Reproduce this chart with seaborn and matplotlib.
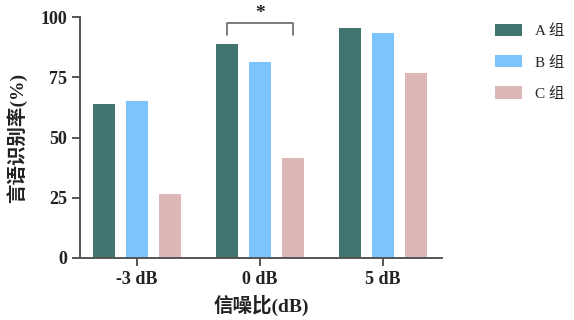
import matplotlib
matplotlib.use("Agg")
import matplotlib.pyplot as plt
import pandas as pd
import seaborn as sns

# 数据
snr = ["-3 dB", "0 dB", "5 dB"]
groups = ["A 组", "B 组", "C 组"]
group_a = [64.0, 89.0, 95.5]
group_b = [65.0, 81.5, 93.2]
group_c = [26.7, 41.5, 76.6]
colors = ["#41736f", "#7bc4fd", "#ddb6b6"]

df = pd.DataFrame({
    "snr": snr * 3,
    "group": [g for g in groups for _ in snr],
    "rate": group_a + group_b + group_c,
})

sns.set_style("ticks")
plt.rcParams["font.family"] = ["Liberation Serif", "Noto Sans CJK SC", "DejaVu Sans"]

fig = plt.figure(figsize=(5.74, 3.2), dpi=100)
ax = fig.add_axes([80 / 574, 62 / 320, 362 / 574, 241 / 320])

sns.barplot(data=df, x="snr", y="rate", hue="group", order=snr, hue_order=groups,
            palette=colors, saturation=1, width=0.8, gap=0.32, linewidth=0, ax=ax)

ax.set_xlim(-0.463, 2.48)
ax.set_ylim(0, 100)
ax.set_yticks([0, 25, 50, 75, 100])

for s in ["top", "right"]:
    ax.spines[s].set_visible(False)
for s in ["left", "bottom"]:
    ax.spines[s].set_color("#555555")
    ax.spines[s].set_linewidth(1.4)

ax.tick_params(axis="both", direction="out", length=6, width=1.4, color="#555555",
               labelsize=13, labelcolor="#222222", pad=3, bottom=True, left=True)
for lab in ax.get_xticklabels() + ax.get_yticklabels():
    lab.set_fontweight("bold")

lab_font = ["Liberation Serif", "Noto Sans CJK SC", "DejaVu Sans"]
ax.set_xlabel("信噪比(dB)", fontsize=14, fontweight="bold", family=lab_font, color="#222222", labelpad=5)
ax.set_ylabel("言语识别率(%)", fontsize=14, fontweight="bold", family=lab_font, color="#222222", labelpad=10)

# 显著性标记
x1, x2 = 1 - 0.267, 1 + 0.267
ax.plot([x1, x1, x2, x2], [92.5, 97.4, 97.4, 92.5], color="#666666", lw=1.2, clip_on=False)
ax.text(1, 101.5, "*", ha="center", va="center", fontsize=14, fontweight="bold", color="#222222")

handles, labels = ax.get_legend_handles_labels()
ax.legend(handles, labels, loc="upper left", bbox_to_anchor=(495 / 574, 0.925),
          bbox_transform=fig.transFigure, frameon=False, fontsize=11, borderpad=0,
          borderaxespad=0, handlelength=1.77, handleheight=0.85, labelspacing=1.1,
          handletextpad=0.85)

fig.savefig("out.png", dpi=100)
